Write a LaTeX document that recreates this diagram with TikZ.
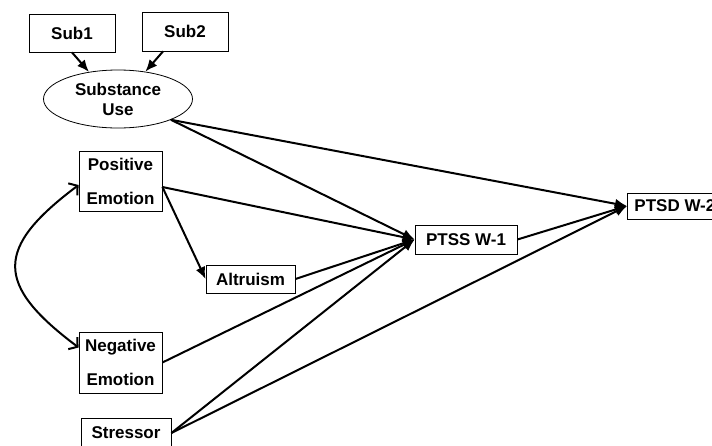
\documentclass[tikz,border=0pt]{standalone}
\usepackage{fontspec}
\setmainfont{Liberation Sans}
\usetikzlibrary{arrows.meta, shapes.geometric}

\begin{document}
\begin{tikzpicture}[x=1pt, y=-1pt,
    box/.style={draw, line width=0.8pt, inner sep=0pt, align=center, font=\fontsize{17}{34}\selectfont\bfseries},
    link/.style={line width=2pt, -{Latex[length=12pt, width=10pt]}},
    curve/.style={line width=2pt, {Straight Barb[length=6pt, width=15pt]}-{Straight Barb[length=6pt, width=15pt]}}]
                \useasboundingbox (0,0) rectangle (712,445);
                \node[box, minimum width=86pt, minimum height=38pt] (sub1) at (72,33) {Sub1};
                \node[box, minimum width=86pt, minimum height=39pt] (sub2) at (185,31.5) {Sub2};
                \node[box, ellipse, minimum width=149pt, minimum height=58pt, font=\fontsize{17}{20}\selectfont\bfseries] (su) at (118,99) {Substance\\Use};
                \node[box, minimum width=83pt, minimum height=60pt] (pos) at (120.5,181) {Positive\\Emotion};
                \node[box, minimum width=83pt, minimum height=61pt] (neg) at (120.5,362.5) {Negative\\Emotion};
                \node[box, minimum width=89pt, minimum height=28pt] (alt) at (250.5,279) {Altruism};
                \node[box, minimum width=102pt, minimum height=29pt] (ptss) at (466,239.5) {PTSS W-1};
                \node[box, minimum width=95pt, minimum height=26pt, anchor=west] (ptsd) at (627,206) {PTSD W-2};
                \node[box, minimum width=90pt, minimum height=30pt] (str) at (126,433) {Stressor};
                \draw[link] (sub1.south) -- (su.137);
                \draw[link] ([xshift=-22pt]sub2.south) -- (su.45);
                \draw[link] (su.south east) -- (ptss.west);
                \draw[link] (su.south east) -- (ptsd.west);
                \draw[link] ([yshift=-6pt]pos.east) -- (ptss.west);
                \draw[link] ([yshift=-6pt]pos.east) -- (alt.west);
                \draw[link] (alt.east) -- (ptss.west);
                \draw[link] (neg.east) -- (ptss.west);
                \draw[link] (str.east) -- (ptss.west);
                \draw[link] (str.east) -- (ptsd.west);
                \draw[link] (ptss.east) -- (ptsd.west);
                \draw[curve] ([yshift=-4pt]pos.west) .. controls +(-84,63) and +(-84,-63) .. ([yshift=15pt]neg.west);
            \end{tikzpicture}
\end{document}
